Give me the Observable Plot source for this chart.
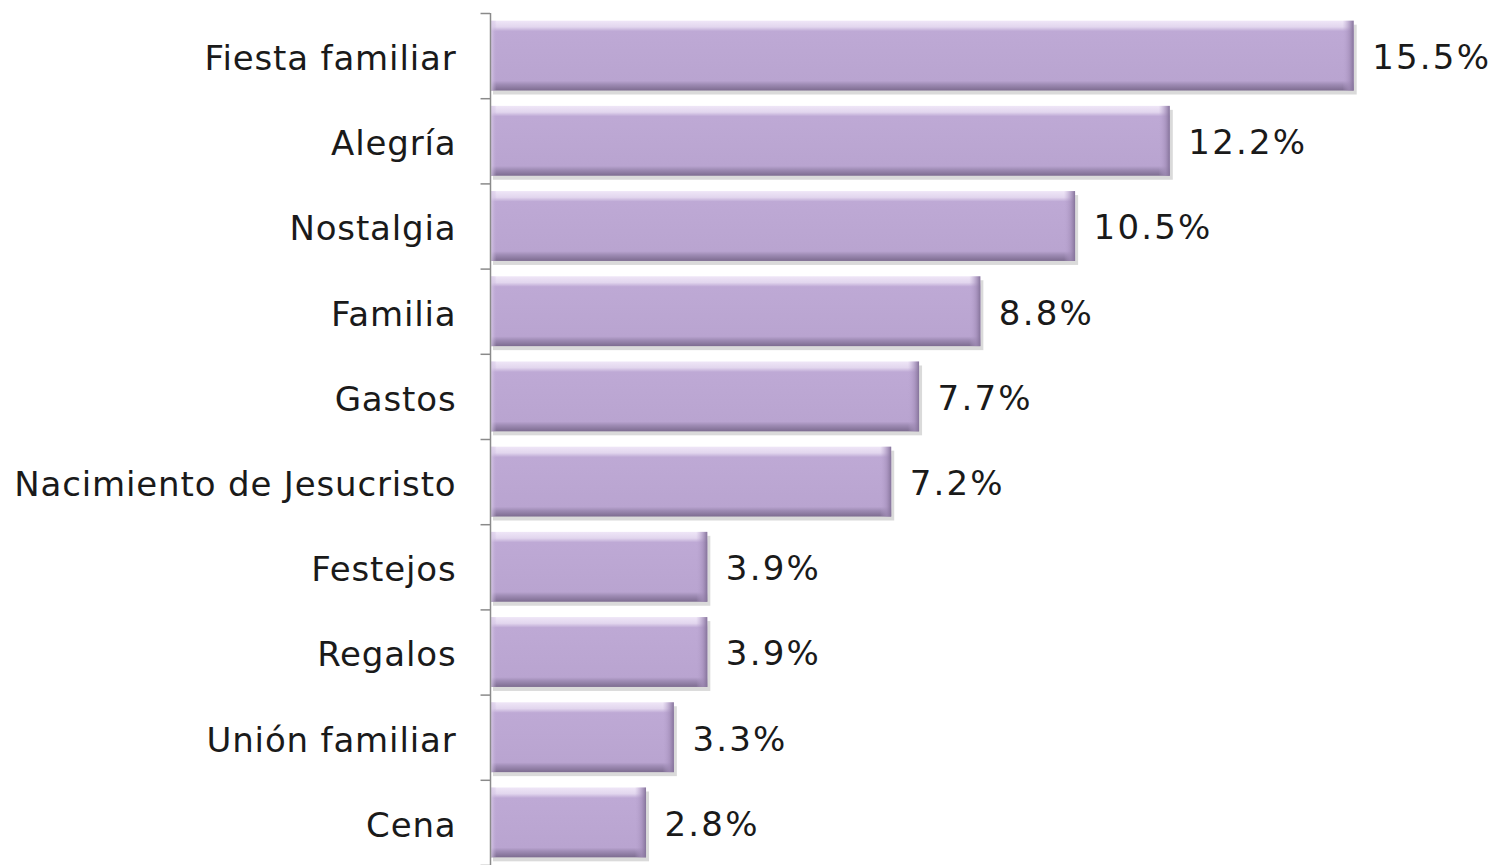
<!DOCTYPE html>
<html>
<head>
<meta charset="utf-8">
<script src="https://cdn.jsdelivr.net/npm/d3@7"></script>
<script src="https://cdn.jsdelivr.net/npm/@observablehq/plot@0.6"></script>
<style>
  html, body { margin: 0; padding: 0; background: #fff; }
  #chart svg { display: block; }
  #chart g[aria-label="y-axis tick label"] text { letter-spacing: 0.85px; }
  #chart g[aria-label="text"] text { letter-spacing: 2.2px; }
</style>
</head>
<body>
<div id="chart"></div>
<script>
const categories = ["Fiesta familiar", "Alegría", "Nostalgia", "Familia", "Gastos",
  "Nacimiento de Jesucristo", "Festejos", "Regalos", "Unión familiar", "Cena"];
const values = [15.5, 12.2, 10.5, 8.8, 7.7, 7.2, 3.9, 3.9, 3.3, 2.8];
const valueLabels = ["15.5%", "12.2%", "10.5%", "8.8%", "7.7%", "7.2%", "3.9%", "3.9%", "3.3%", "2.8%"];

const data = categories.map((c, i) => ({i, category: c, value: values[i], label: valueLabels[i]}));
const boundaries = d3.range(categories.length + 1).map(k => k - 0.5);
const half = 0.41;
const font = "DejaVu Sans, Verdana, sans-serif";

function gradient(defs, id, horizontal, stops) {
  const g = defs.append("linearGradient").attr("id", id)
    .attr("x1", 0).attr("y1", 0).attr("x2", horizontal ? 1 : 0).attr("y2", horizontal ? 0 : 1);
  for (const [o, c, a] of stops) g.append("stop").attr("offset", o).attr("stop-color", c).attr("stop-opacity", a ?? 1);
}
const defsMark = () => {
  const g = d3.create("svg:g");
  const defs = g.append("defs");
  gradient(defs, "barV", false, [
    [0, "#efe6f7"], [0.09, "#e2d6ee"], [0.15, "#bea9d5"], [0.86, "#b9a4d0"], [0.91, "#a08db6"], [1, "#7d6c90"]
  ]);
  gradient(defs, "barR", true, [
    [0, "#b9a4d0", 0], [0.6, "#a48fba", 0.7], [1, "#85739a", 1]
  ]);
  gradient(defs, "barL", true, [
    [0, "#e4d8f0", 0.9], [1, "#bea9d5", 0]
  ]);
  return g.node();
};

const chart = Plot.plot({
  width: 1493,
  height: 865,
  marginLeft: 490,
  marginRight: 0,
  marginTop: 13,
  marginBottom: 0,
  style: {fontFamily: font, fontSize: "34px", color: "#1a1a1a", background: "#fff"},
  x: {domain: [0, 18], axis: null},
  y: {domain: [-0.5, 9.5], reverse: true, axis: null},
  marks: [
    defsMark,
    Plot.rectX(data, {x1: 0, x2: "value", y1: d => d.i - half, y2: d => d.i + half,
      fill: "#7a7a7a", fillOpacity: 0.28, dx: 3, dy: 4}),
    Plot.rectX(data, {x1: 0, x2: "value", y1: d => d.i - half, y2: d => d.i + half,
      fill: "url(#barV)"}),
    Plot.rectX(data, {x1: d => d.value - 0.2, x2: "value", y1: d => d.i - half, y2: d => d.i + half,
      fill: "url(#barR)"}),
    Plot.rectX(data, {x1: 0, x2: 0.12, y1: d => d.i - half, y2: d => d.i + half,
      fill: "url(#barL)"}),
    Plot.ruleX([0], {y1: -0.5, y2: 9.5, stroke: "#8a8a8a", strokeWidth: 1.5}),
    Plot.ruleY(boundaries, {y: d => d, x1: -0.17, x2: 0, stroke: "#8a8a8a", strokeWidth: 1.5}),
    Plot.axisY(d3.range(categories.length), {
      tickSize: 0, tickPadding: 34, tickFormat: i => categories[i], dy: 3,
      fontSize: 34, fill: "#1a1a1a", label: null, anchor: "left"
    }),
    Plot.text(data, {x: "value", y: "i", text: "label", dx: 18, dy: 2, textAnchor: "start",
      fontSize: 34, fill: "#1a1a1a"})
  ]
});
document.getElementById("chart").appendChild(chart);
</script>
</body>
</html>
